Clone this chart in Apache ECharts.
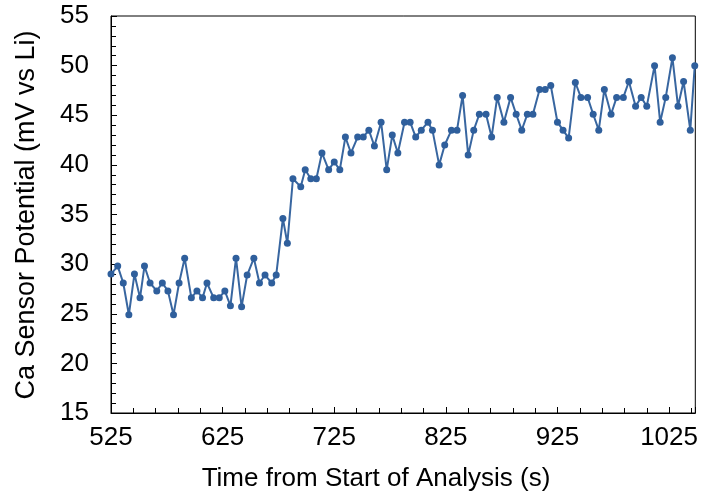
<!DOCTYPE html>
<html>
<head>
<meta charset="utf-8">
<script src="https://cdn.jsdelivr.net/npm/echarts@6/dist/echarts.min.js"></script>
<style>
  html, body { margin: 0; padding: 0; background: #fff; }
  #chart { width: 701px; height: 494px; }
</style>
</head>
<body>
<div id="chart"></div>
<script>
// Time stamps (s) of each Ca sensor reading
const times = [
  525, 531, 536, 541, 546, 551, 555, 560, 566, 571,
  576, 581, 586, 591, 597, 602, 607, 611, 617, 622,
  627, 632, 637, 642, 647, 653, 658, 663, 669, 673,
  679, 683, 688, 695, 699, 704, 709, 714, 720, 725,
  730, 735, 740, 746, 751, 756, 761, 767, 772, 777,
  782, 788, 793, 798, 803, 809, 813, 819, 824, 830,
  835, 840, 845, 850, 855, 861, 866, 871, 877, 883,
  888, 893, 898, 903, 909, 914, 919, 925, 930, 935,
  941, 946, 952, 957, 962, 967, 973, 978, 984, 989,
  995, 1000, 1005, 1012, 1017, 1022, 1028, 1033, 1038, 1044,
  1048
];

// Sensor potential (mV vs Li)
const potential = [
  29.0, 29.8, 28.1, 24.9, 29.0, 26.6, 29.8, 28.1, 27.3, 28.1,
  27.3, 24.9, 28.1, 30.6, 26.6, 27.3, 26.6, 28.1, 26.6, 26.6,
  27.3, 25.8, 30.6, 25.7, 28.9, 30.6, 28.1, 28.9, 28.1, 28.9,
  34.6, 32.1, 38.6, 37.8, 39.5, 38.6, 38.6, 41.2, 39.5, 40.3,
  39.5, 42.8, 41.2, 42.8, 42.8, 43.5, 41.9, 44.3, 39.5, 43.0,
  41.2, 44.3, 44.3, 42.8, 43.5, 44.3, 43.5, 40.0, 42.0, 43.5,
  43.5, 47.0, 41.0, 43.5, 45.1, 45.1, 42.8, 46.8, 44.3, 46.8,
  45.1, 43.5, 45.1, 45.1, 47.6, 47.6, 48.0, 44.3, 43.5, 42.7,
  48.3, 46.8, 46.8, 45.1, 43.5, 47.6, 45.1, 46.8, 46.8, 48.4,
  45.9, 46.8, 45.9, 50.0, 44.3, 46.8, 50.8, 45.9, 48.4, 43.5,
  50.0
];

const xTitle = 'Time from Start of Analysis (s)';
const yTitle = 'Ca Sensor Potential (mV vs Li)';

const FONT = '"Liberation Sans", Arial, sans-serif';
const LINE_COLOR = '#3866a0';

const chart = echarts.init(document.getElementById('chart'), null, { renderer: 'canvas' });

chart.setOption({
  animation: false,
  backgroundColor: '#ffffff',
  grid: {
    left: 111, right: 2, top: 16, bottom: 81,
    show: true, borderColor: '#000', borderWidth: 1, backgroundColor: 'transparent'
  },
  xAxis: {
    type: 'value',
    min: 525, max: 1048.5, interval: 100,
    axisLine: { show: true, lineStyle: { color: '#000', width: 1 } },
    axisTick: { show: true, inside: true, length: 6, lineStyle: { color: '#000' } },
    minorTick: { show: true, splitNumber: 5, length: 5, lineStyle: { color: '#000' } },
    splitLine: { show: false },
    axisLabel: {
      color: '#000', fontFamily: FONT, fontSize: 26, margin: 12,
      showMaxLabel: false,
      formatter: v => String(v)
    }
  },
  yAxis: {
    type: 'value',
    min: 15, max: 55, interval: 5,
    axisLine: { show: true, lineStyle: { color: '#000', width: 1 } },
    axisTick: { show: true, inside: true, length: 6, lineStyle: { color: '#000' } },
    minorTick: { show: true, splitNumber: 5, length: 5, lineStyle: { color: '#000' } },
    splitLine: { show: false },
    axisLabel: { color: '#000', fontFamily: FONT, fontSize: 26, margin: 22 }
  },
  graphic: [
    {
      type: 'text', x: 376, y: 479,
      style: { text: xTitle, font: '26px ' + FONT, fill: '#000', align: 'center', verticalAlign: 'middle' }
    },
    {
      type: 'text', x: 27, y: 215, rotation: Math.PI / 2,
      style: { text: yTitle, font: '27px ' + FONT, fill: '#000', align: 'center', verticalAlign: 'middle' }
    }
  ],
  series: [{
    type: 'line',
    data: times.map((t, i) => [t, potential[i]]),
    symbol: 'circle',
    symbolSize: 7,
    showAllSymbol: true,
    clip: false,
    lineStyle: { color: LINE_COLOR, width: 2 },
    itemStyle: { color: '#2f5f9c', borderWidth: 0 }
  }]
});
</script>
</body>
</html>
